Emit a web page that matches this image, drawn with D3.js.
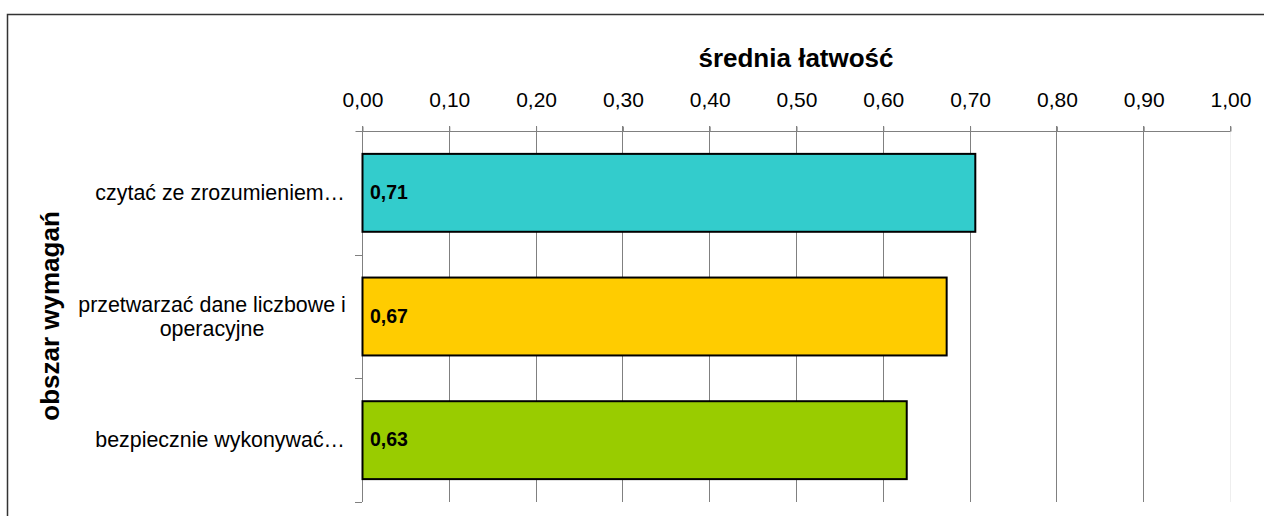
<!DOCTYPE html>
<html><head><meta charset="utf-8">
<script src="https://cdn.jsdelivr.net/npm/d3@7"></script>
<style>body{margin:0;background:#fff;} svg{display:block;font-family:"Liberation Sans",Arial,sans-serif;}</style>
</head><body>
<svg id="c" width="1264" height="516"></svg>
<script>
const categories = [["czytać ze zrozumieniem…"], ["przetwarzać dane liczbowe i", "operacyjne"], ["bezpiecznie wykonywać…"]];
const values = [0.706, 0.673, 0.627];
const colors = ["#33CCCC", "#FFCC00", "#99CC00"];
const tickValues = [0, 0.1, 0.2, 0.3, 0.4, 0.5, 0.6, 0.7, 0.8, 0.9, 1.0];
const xTitle = "średnia łatwość";
const yTitle = "obszar wymagań";

const svg = d3.select("#c");
const fmt = v => d3.format(".2f")(v).replace(".", ",");

svg.append("rect").attr("x", 7.5).attr("y", 14.5).attr("width", 1270).attr("height", 520)
  .attr("fill", "none").attr("stroke", "#333").attr("stroke-width", 1.5);

const L = 362, R = 1230, T = 131, B = 502;
const x = d3.scaleLinear().domain([0, 1]).range([L, R]);
const y = d3.scaleBand().domain(d3.range(categories.length)).range([T, B]).paddingInner(0.37).paddingOuter(0.185);
const yb = d3.scaleBand().domain(d3.range(categories.length)).range([T, B]);

// gridlines
svg.append("g").selectAll("line").data(tickValues).join("line")
  .attr("x1", d => Math.round(x(d)) + 0.5).attr("x2", d => Math.round(x(d)) + 0.5)
  .attr("y1", T - 5).attr("y2", B)
  .attr("stroke", d => d === 1 ? "#eee" : "#808080").attr("stroke-width", 1);
svg.append("line").attr("x1", x(1) + 0.5).attr("x2", x(1) + 0.5).attr("y1", T - 5).attr("y2", T).attr("stroke", "#808080");

// top axis
const xa = svg.append("g").attr("transform", `translate(0.5,${T + 0.5})`)
  .call(d3.axisTop(x).tickValues(tickValues).tickFormat(fmt).tickSize(5).tickPadding(19.5));
xa.attr("font-size", null).attr("font-family", null);
xa.select(".domain").attr("stroke", "#808080").attr("d", `M${L - 7},0H${R}`);
xa.selectAll(".tick line").attr("stroke", "#808080");
xa.selectAll(".tick text").style("font-size", "21px").attr("fill", "#000");

// left axis
svg.append("line").attr("x1", L + 0.5).attr("x2", L + 0.5).attr("y1", T).attr("y2", B).attr("stroke", "#808080");
svg.append("g").selectAll("line").data(d3.range(categories.length)).join("line")
  .attr("x1", L - 7).attr("x2", L).attr("y1", d => Math.round(yb(d) + yb.bandwidth()) + 0.5).attr("y2", d => Math.round(yb(d) + yb.bandwidth()) + 0.5)
  .attr("stroke", "#808080");

// bars
svg.append("g").selectAll("rect").data(values).join("rect")
  .attr("x", x(0) + 0.5).attr("y", (d, i) => y(i))
  .attr("width", d => x(d) - x(0)).attr("height", y.bandwidth())
  .attr("fill", (d, i) => colors[i]).attr("stroke", "#000").attr("stroke-width", 2);

svg.append("g").selectAll("text").data(values).join("text")
  .attr("x", x(0) + 8).attr("y", (d, i) => y(i) + y.bandwidth() / 2 + 6)
  .style("font-size", "19.5px").attr("font-weight", "bold").text(d => fmt(d));

// category labels
const cl = svg.append("g").selectAll("text").data(categories).join("text")
  .style("font-size", "21.4px").attr("text-anchor", d => d.length > 1 ? "middle" : "end")
  .attr("transform", (d, i) => {
    const cy = yb(i) + yb.bandwidth() / 2;
    return `translate(${d.length > 1 ? 212 : 345},${cy + 7 - (d.length - 1) * 12})`;
  });
cl.each(function(d) {
  d3.select(this).selectAll("tspan").data(d).join("tspan").attr("x", 0).attr("dy", (t, j) => j ? 24 : 0).text(t => t);
});

// titles
svg.append("text").attr("x", 796).attr("y", 67).attr("text-anchor", "middle")
  .style("font-size", "26px").attr("font-weight", "bold").text(xTitle);
svg.append("text").attr("transform", "translate(59,316) rotate(-90)").attr("text-anchor", "middle")
  .style("font-size", "26px").attr("font-weight", "bold").text(yTitle);
</script>
</body></html>
